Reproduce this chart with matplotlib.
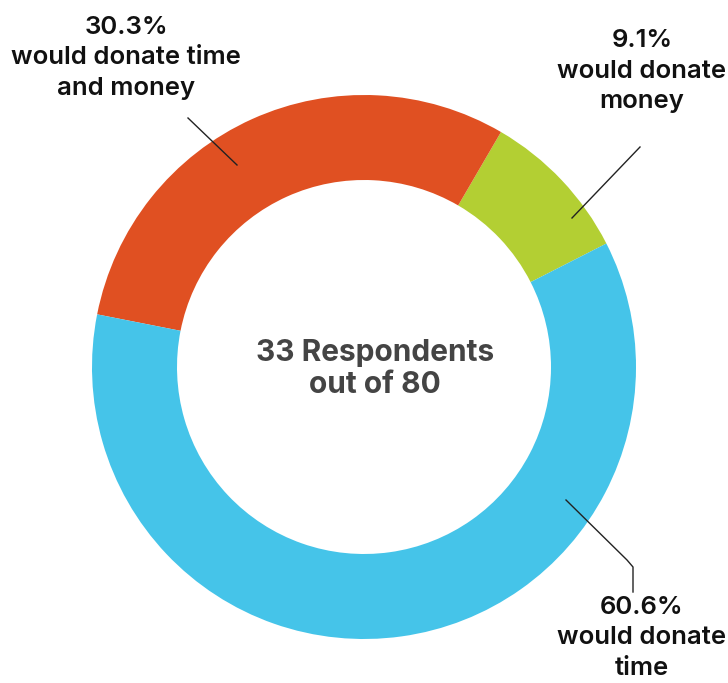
import matplotlib
matplotlib.use("Agg")
import matplotlib.pyplot as plt

# Data
categories = ["would donate money", "would donate time and money", "would donate time"]
shares = [9.1, 30.3, 60.6]
pct_labels = ["9.1%", "30.3%", "60.6%"]
colors = ["#B3CF33", "#E05022", "#45C4E9"]
center_text = "33 Respondents\nout of 80"

W, H = 728, 683
fig = plt.figure(figsize=(W / 100, H / 100), dpi=100)
ax = fig.add_axes([0, 0, 1, 1])
ax.set_xlim(0, W)
ax.set_ylim(H, 0)
ax.set_aspect("equal")
ax.axis("off")

cx, cy, R = 364, 367, 272
ax.pie(shares, colors=colors, startangle=-27, counterclock=False,
       center=(cx, cy), radius=R, frame=True,
       wedgeprops=dict(width=85, linewidth=0))
ax.set_xlim(0, W)
ax.set_ylim(H, 0)
ax.axis("off")

font = dict(family=["Inter", "DejaVu Sans"], fontsize=18.5, fontweight="semibold",
            color="#111111", ha="center", va="center", linespacing=1.4)

ax.text(126, 58, f"{pct_labels[1]}\n{categories[1].replace(' time and', ' time\nand')}", **font)
ax.plot([188, 237], [118, 165], color="#222222", lw=1)

ax.text(642, 71, f"{pct_labels[0]}\n{categories[0].replace('donate ', 'donate\n')}", **font)
ax.plot([640, 572], [147, 218], color="#222222", lw=1)

ax.text(642, 638, f"{pct_labels[2]}\n{categories[2].replace('donate ', 'donate\n')}", **font)
ax.plot([566, 627, 633, 633], [500, 560, 567, 592], color="#222222", lw=1)

ax.text(375, 369, center_text, family=["Inter", "DejaVu Sans"], fontsize=21.5,
        fontweight="bold", color="#444444", ha="center", va="center", linespacing=1.22)

fig.savefig("out.png", dpi=100)
